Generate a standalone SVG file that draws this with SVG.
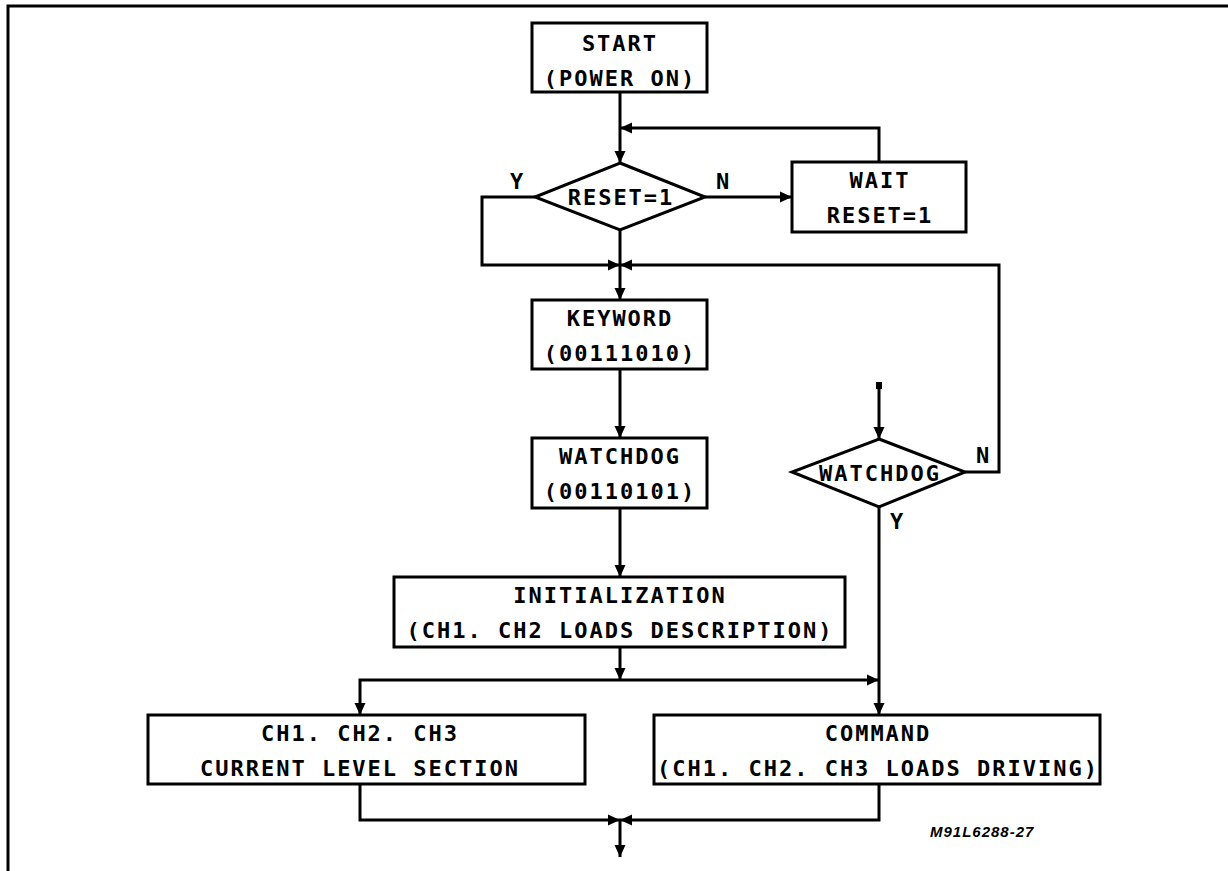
<svg xmlns="http://www.w3.org/2000/svg" width="1228" height="871" viewBox="0 0 1228 871">
<defs>
<marker id="arr" markerUnits="userSpaceOnUse" markerWidth="14" markerHeight="14" refX="13" refY="7" orient="auto">
<path d="M1,1.5 L13,7 L1,12.5 z" fill="#000"/>
</marker>
<style>
.box{fill:#fff;stroke:#000;stroke-width:3}
.ln{fill:none;stroke:#000;stroke-width:3}
.t{font-family:"DejaVu Sans Mono","Liberation Mono",monospace;font-weight:bold;font-size:22px;letter-spacing:2px;text-anchor:middle;fill:#000}
.lb{font-family:"DejaVu Sans Mono","Liberation Mono",monospace;font-weight:bold;font-size:22px;fill:#000}
.id{font-family:"Liberation Sans",Arial,sans-serif;font-weight:bold;font-style:italic;font-size:15px;letter-spacing:1px;fill:#000}
</style>
</defs>
<rect width="1228" height="871" fill="#fff"/>
<path class="ln" d="M8,871 V6 H1228"/>
<g id="connectors">
<path class="ln" d="M620,92 V163" marker-end="url(#arr)"/>
<path class="ln" d="M879,162 V128 H620" marker-end="url(#arr)"/>
<path class="ln" d="M705,197 H792" marker-end="url(#arr)"/>
<path class="ln" d="M535,197 H482 V265 H620" marker-end="url(#arr)"/>
<path class="ln" d="M620,230 V300" marker-end="url(#arr)"/>
<path class="ln" d="M965,472 H999 V265 H620" marker-end="url(#arr)"/>
<path class="ln" d="M620,369 V438" marker-end="url(#arr)"/>
<path class="ln" d="M620,508 V577" marker-end="url(#arr)"/>
<path class="ln" d="M620,647 V680" marker-end="url(#arr)"/>
<path class="ln" d="M620,680 H360 V715" marker-end="url(#arr)"/>
<path class="ln" d="M620,680 H879" marker-end="url(#arr)"/>
<rect x="876" y="382" width="6" height="7" fill="#000"/>
<path class="ln" d="M879,385 V439" marker-end="url(#arr)"/>
<path class="ln" d="M879,507 V715" marker-end="url(#arr)"/>
<path class="ln" d="M360,784 V820 H620" marker-end="url(#arr)"/>
<path class="ln" d="M879,784 V820 H620" marker-end="url(#arr)"/>
<path class="ln" d="M620,820 V857" marker-end="url(#arr)"/>
<text class="lb" x="510" y="189">Y</text>
<text class="lb" x="716" y="189">N</text>
<text class="lb" x="976" y="463">N</text>
<text class="lb" x="890" y="529">Y</text>
</g>
<g id="start">
<rect class="box" x="532" y="23" width="175" height="69"/>
<text class="t" x="620" y="51">START</text>
<text class="t" x="620" y="86">(POWER ON)</text>
</g>
<g id="reset">
<polygon class="box" points="620,163 705,197 620,230 535,197"/>
<text class="t" x="621" y="205">RESET=1</text>
</g>
<g id="wait">
<rect class="box" x="792" y="162" width="174" height="70"/>
<text class="t" x="880" y="188">WAIT</text>
<text class="t" x="880" y="223">RESET=1</text>
</g>
<g id="keyword">
<rect class="box" x="532" y="300" width="175" height="69"/>
<text class="t" x="620" y="326">KEYWORD</text>
<text class="t" x="620" y="361">(00111010)</text>
</g>
<g id="watchdog">
<rect class="box" x="532" y="438" width="175" height="70"/>
<text class="t" x="620" y="464">WATCHDOG</text>
<text class="t" x="620" y="499">(00110101)</text>
</g>
<g id="wd-check">
<polygon class="box" points="879,439 965,472 879,507 792,472"/>
<text class="t" x="880" y="481">WATCHDOG</text>
</g>
<g id="init">
<rect class="box" x="394" y="577" width="451" height="70"/>
<text class="t" x="620" y="603">INITIALIZATION</text>
<text class="t" x="620" y="638">(CH1. CH2 LOADS DESCRIPTION)</text>
</g>
<g id="current">
<rect class="box" x="148" y="715" width="437" height="69"/>
<text class="t" x="360" y="741">CH1. CH2. CH3</text>
<text class="t" x="360" y="776">CURRENT LEVEL SECTION</text>
</g>
<g id="command">
<rect class="box" x="654" y="715" width="446" height="69"/>
<text class="t" x="878" y="741">COMMAND</text>
<text class="t" x="878" y="776">(CH1. CH2. CH3 LOADS DRIVING)</text>
</g>
<text class="id" x="930" y="837">M91L6288-27</text>
</svg>
